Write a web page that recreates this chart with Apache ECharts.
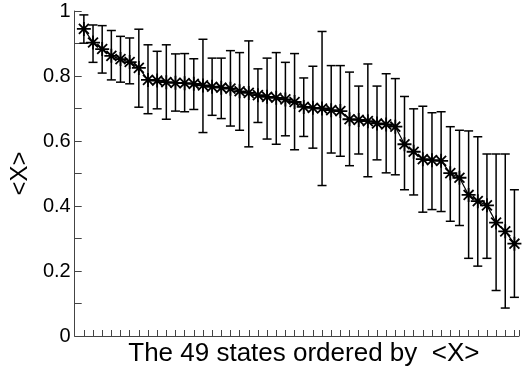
<!DOCTYPE html>
<html>
<head>
<meta charset="utf-8">
<script src="https://cdn.jsdelivr.net/npm/echarts@6/dist/echarts.min.js"></script>
<style>
html,body{margin:0;padding:0;background:#fff;}
#chart{width:532px;height:372px;}
</style>
</head>
<body>
<div id="chart"></div>
<script>
// State index (ordered by <X>)
var stateIndex = [1,2,3,4,5,6,7,8,9,10,11,12,13,14,15,16,17,18,19,20,21,22,23,24,
                  25,26,27,28,29,30,31,32,33,34,35,36,37,38,39,40,41,42,43,44,45,46,47,48];
// Mean <X>
var meanX = [0.945,0.903,0.883,0.862,0.852,0.843,0.825,0.788,0.786,0.781,0.779,0.778,
             0.776,0.771,0.767,0.764,0.761,0.753,0.748,0.741,0.736,0.733,0.728,0.720,
             0.705,0.702,0.700,0.695,0.692,0.667,0.665,0.661,0.654,0.651,0.644,0.590,
             0.567,0.544,0.541,0.539,0.501,0.487,0.434,0.415,0.402,0.349,0.322,0.284];
// Error bar upper ends
var upperX = [0.988,0.957,0.955,0.940,0.922,0.917,0.944,0.896,0.876,0.896,0.868,0.869,
              0.853,0.913,0.855,0.855,0.878,0.872,0.908,0.822,0.855,0.872,0.842,0.869,
              0.794,0.830,0.937,0.832,0.832,0.812,0.769,0.837,0.769,0.807,0.792,0.737,
              0.699,0.707,0.687,0.690,0.644,0.633,0.631,0.613,0.560,0.560,0.560,0.450];
// Error bar lower ends
var lowerX = [0.901,0.842,0.809,0.788,0.781,0.776,0.704,0.684,0.699,0.667,0.692,0.690,
              0.697,0.626,0.679,0.669,0.646,0.633,0.582,0.657,0.606,0.590,0.616,0.573,
              0.614,0.578,0.463,0.563,0.553,0.524,0.560,0.490,0.542,0.502,0.496,0.450,
              0.434,0.381,0.389,0.383,0.353,0.340,0.239,0.215,0.239,0.140,0.086,0.119];
// Y tick labels (every other tick at 0.1 spacing is labelled)
var yTickLabels = ['0','','0.2','','0.4','','0.6','','0.8','','1'];

var lineData = stateIndex.map(function(s,i){ return [s, meanX[i]]; });
var errData = stateIndex.map(function(s,i){ return [s, lowerX[i], upperX[i]]; });

var FONT = '"Liberation Sans", Arial, Helvetica, sans-serif';
var chart = echarts.init(document.getElementById('chart'), null, {renderer:'canvas'});
chart.setOption({
  animation: false,
  backgroundColor: '#fff',
  grid: {left: 66, right: 13, top: 11, bottom: 34, containLabel: false},
  xAxis: {
    type: 'value', min: 0, max: 48.5, interval: 1,
    name: 'The 49 states ordered by  <X>',
    nameLocation: 'middle', nameGap: 5,
    nameTextStyle: {fontFamily: FONT, fontSize: 26, color: '#000', padding: [0,0,0,14], verticalAlign: 'top'},
    axisLine: {show: true, onZero: false, lineStyle: {color: '#444', width: 1}},
    axisTick: {show: true, inside: true, length: 6, lineStyle: {color: '#444', width: 1}},
    axisLabel: {show: false},
    splitLine: {show: false}
  },
  yAxis: {
    type: 'value', min: 0, max: 1, interval: 0.1,
    name: '<X>', nameLocation: 'middle', nameGap: 32, nameRotate: 90,
    nameTextStyle: {fontFamily: FONT, fontSize: 24, color: '#000'},
    axisLine: {show: true, lineStyle: {color: '#444', width: 1}},
    axisTick: {show: true, inside: true, length: 7, lineStyle: {color: '#444', width: 1}},
    axisLabel: {
      fontFamily: FONT, fontSize: 20, color: '#000', margin: 4,
      formatter: function(v){ var i = Math.round(v*10); return yTickLabels[i]; }
    },
    splitLine: {show: false}
  },
  series: [
    {
      type: 'custom',
      data: errData,
      encode: {x: 0, y: [1,2]},
      renderItem: function(params, api){
        var x = api.value(0);
        var lo = api.coord([x, api.value(1)]);
        var hi = api.coord([x, api.value(2)]);
        var w = 4.5;
        var st = {stroke: '#000', lineWidth: 1.5};
        return {type: 'group', children: [
          {type: 'line', shape: {x1: lo[0], y1: lo[1], x2: hi[0], y2: hi[1]}, style: st},
          {type: 'line', shape: {x1: hi[0]-w, y1: hi[1], x2: hi[0]+w, y2: hi[1]}, style: st},
          {type: 'line', shape: {x1: lo[0]-w, y1: lo[1], x2: lo[0]+w, y2: lo[1]}, style: st}
        ]};
      },
      z: 2
    },
    {
      type: 'line',
      data: lineData,
      symbol: 'path://M10,0L10,20M0,10L20,10M2.93,2.93L17.07,17.07M2.93,17.07L17.07,2.93',
      symbolSize: 14,
      itemStyle: {color: 'none', borderColor: '#000', borderWidth: 1.8},
      lineStyle: {color: '#000', width: 1.2},
      z: 3
    }
  ]
});
</script>
</body>
</html>
